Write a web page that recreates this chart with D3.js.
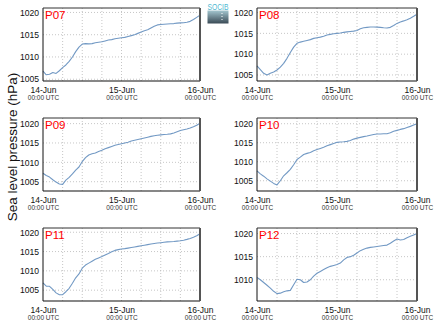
<!DOCTYPE html>
<html><head><meta charset="utf-8">
<script src="https://cdn.jsdelivr.net/npm/d3@7"></script>
<style>body{margin:0;background:#fff}svg{display:block}text{font-family:"Liberation Sans",Arial,sans-serif}</style>
</head><body>
<svg id="c" width="435" height="327"></svg>
<script>
// ---- data (hourly, 14-Jun 00:00 to 16-Jun 00:00 UTC) ----
const stations = ["P07","P08","P09","P10","P11","P12"];
const P07 = [1006.8,1006.0,1006.1,1006.5,1006.3,1006.9,1007.6,1008.2,1009.0,1010.0,1011.2,1012.2,1012.9,1013.0,1012.95,1013.0,1013.2,1013.3,1013.4,1013.6,1013.8,1013.9,1014.1,1014.2,1014.3,1014.4,1014.6,1014.8,1015.0,1015.3,1015.6,1015.9,1016.1,1016.5,1016.9,1017.2,1017.3,1017.35,1017.4,1017.45,1017.5,1017.6,1017.65,1017.7,1017.8,1018.0,1018.4,1018.9,1019.4];
const P08 = [1007.2,1006.3,1005.4,1005.0,1005.4,1005.7,1006.2,1006.9,1007.8,1009.0,1010.4,1011.7,1012.6,1012.9,1013.1,1013.3,1013.5,1013.8,1013.95,1014.1,1014.3,1014.6,1014.75,1014.9,1015.0,1015.1,1015.25,1015.35,1015.45,1015.55,1015.7,1016.1,1016.35,1016.45,1016.55,1016.55,1016.5,1016.45,1016.35,1016.3,1016.45,1016.9,1017.4,1017.75,1018.0,1018.3,1018.65,1019.1,1019.6];
const P09 = [1007.2,1006.6,1006.2,1005.5,1004.9,1004.4,1004.3,1005.4,1006.1,1007.0,1008.0,1008.8,1010.2,1011.2,1011.9,1012.2,1012.4,1012.8,1013.1,1013.5,1013.8,1014.1,1014.4,1014.6,1014.8,1015.0,1015.2,1015.5,1015.7,1015.9,1016.1,1016.3,1016.5,1016.7,1016.85,1017.0,1017.1,1017.2,1017.25,1017.35,1017.6,1017.9,1018.2,1018.4,1018.6,1018.85,1019.2,1019.6,1020.1];
const P10 = [1007.6,1006.8,1006.2,1005.5,1004.9,1004.3,1003.9,1005.0,1006.3,1007.1,1008.0,1009.2,1010.6,1011.2,1011.9,1012.2,1012.45,1012.9,1013.2,1013.5,1013.8,1014.2,1014.5,1014.8,1015.1,1015.2,1015.25,1015.35,1015.6,1015.95,1016.2,1016.4,1016.6,1016.75,1016.95,1017.15,1017.3,1017.3,1017.35,1017.35,1017.6,1018.0,1018.25,1018.5,1018.7,1019.0,1019.3,1019.65,1020.0];
const P11 = [1006.9,1006.05,1006.0,1005.2,1004.3,1003.8,1003.85,1004.6,1005.5,1006.8,1008.2,1009.2,1010.7,1011.5,1012.0,1012.5,1013.0,1013.35,1013.7,1014.1,1014.5,1014.95,1015.3,1015.5,1015.65,1015.75,1015.9,1016.05,1016.2,1016.35,1016.5,1016.65,1016.8,1016.95,1017.1,1017.2,1017.3,1017.4,1017.5,1017.55,1017.6,1017.7,1017.8,1017.95,1018.15,1018.4,1018.7,1019.1,1019.6];
const P12 = [1010.5,1010.0,1009.4,1008.8,1008.2,1007.5,1007.0,1007.1,1007.4,1007.6,1007.7,1008.9,1010.1,1010.0,1009.4,1009.5,1010.0,1010.8,1011.4,1011.8,1012.2,1012.6,1012.9,1013.1,1013.3,1013.6,1014.3,1014.8,1015.0,1015.3,1015.8,1016.3,1016.6,1016.85,1017.0,1017.1,1017.2,1017.3,1017.4,1017.5,1017.9,1018.4,1018.8,1018.6,1018.7,1019.1,1019.4,1019.7,1020.0];
const series = [P07,P08,P09,P10,P11,P12];
const yDomains = [[1004.6,1021.0],[1003.55,1021.1],[1002.6,1021.45],[1002.3,1021.5],[1002.2,1021.1],[1005.4,1021.2]];
const yTicks = [1005,1010,1015,1020];
const dayTicks = ["14-Jun","15-Jun","16-Jun"];
const subLabel = "00:00 UTC";
const yTitle = "Sea level pressure (hPa)";
const startTime = new Date(Date.UTC(2013,5,14,0));
const endTime = new Date(Date.UTC(2013,5,16,0));

// ---- layout ----
const svg = d3.select("#c");
const colX = [[43,200],[257,417]];
const rowY = [8,118,228];
const ph = 73;

const times = P07.map((_,i)=> new Date(startTime.getTime()+i*3600e3));

series.forEach((vals,k)=>{
  const col = k%2, row = Math.floor(k/2);
  const [x0,x1] = colX[col];
  const y0 = rowY[row], y1 = y0+ph;
  const x = d3.scaleUtc().domain([startTime,endTime]).range([x0,x1]);
  const y = d3.scaleLinear().domain(yDomains[k]).range([y1,y0]);
  const g = svg.append("g");

  // gridlines
  const gridT = d3.utcHour.every(6).range(startTime,endTime).slice(1);
  g.selectAll(null).data(gridT).join("line")
    .attr("x1",d=>x(d)).attr("x2",d=>x(d)).attr("y1",y0).attr("y2",y1)
    .attr("stroke","#b8b8b8").attr("stroke-width",0.8).attr("stroke-dasharray","1,2");
  const yt = yTicks.filter(v=>v>yDomains[k][0]&&v<yDomains[k][1]);
  g.selectAll(null).data(yt).join("line")
    .attr("x1",x0).attr("x2",x1).attr("y1",d=>y(d)).attr("y2",d=>y(d))
    .attr("stroke","#b8b8b8").attr("stroke-width",0.8).attr("stroke-dasharray","1,2");

  // y axis labels
  const ya = d3.axisLeft(y).tickValues(yt).tickSize(0).tickPadding(4).tickFormat(d3.format("d"));
  const yg = g.append("g").attr("transform",`translate(${x0},0)`).call(ya);
  yg.select(".domain").remove();
  yg.selectAll("text").attr("font-size",8.6).attr("fill","#111").attr("font-family","'Liberation Sans',Arial,sans-serif");

  // x axis labels
  const days = d3.utcDay.range(startTime,new Date(endTime.getTime()+1));
  const xa = d3.axisBottom(x).tickValues(days).tickSize(0).tickPadding(0).tickFormat((d,i)=>dayTicks[i]);
  const xg = g.append("g").attr("transform",`translate(0,${y1})`).call(xa);
  xg.select(".domain").remove();
  xg.selectAll("text").attr("font-size",8.5).attr("fill","#111").attr("dy",null).attr("y",12.3)
    .attr("font-family","'Liberation Sans',Arial,sans-serif");
  xg.selectAll(".tick").append("text").text(subLabel).attr("y",19).attr("text-anchor","middle")
    .attr("font-size",6.5).attr("fill","#333");

  // line
  const line = d3.line().x((d,i)=>x(times[i])).y(d=>y(d));
  g.append("path").datum(vals).attr("d",line).attr("fill","none")
    .attr("stroke","#7299c4").attr("stroke-width",1.1).attr("stroke-linejoin","round");

  // frame
  g.append("line").attr("x1",x0).attr("x2",x0).attr("y1",y0).attr("y2",y1).attr("stroke","#111").attr("stroke-width",1);
  g.append("line").attr("x1",x0).attr("x2",x1).attr("y1",y1).attr("y2",y1).attr("stroke","#111").attr("stroke-width",1.2);
  g.append("line").attr("x1",x0).attr("x2",x1).attr("y1",y0).attr("y2",y0).attr("stroke","#333").attr("stroke-width",1);
  g.append("line").attr("x1",x1).attr("x2",x1).attr("y1",y0).attr("y2",y1).attr("stroke","#555").attr("stroke-width",2);

  // station label
  g.append("text").text(stations[k]).attr("x",x0+2).attr("y",y0+11.3)
    .attr("font-size",11.5).attr("fill","#ff0000");
});

// y title
svg.append("text").text(yTitle).attr("transform","translate(17,147) rotate(-90)")
  .attr("text-anchor","middle").attr("font-size",13.5).attr("fill","#111");

// logo
const defs = svg.append("defs");
const grad = defs.append("linearGradient").attr("id","lg").attr("x1",0).attr("x2",0).attr("y1",0).attr("y2",1);
grad.append("stop").attr("offset","0%").attr("stop-color","#a3c6cf");
grad.append("stop").attr("offset","100%").attr("stop-color","#3a4a55");
svg.append("rect").attr("x",207.5).attr("y",10.5).attr("width",21).attr("height",13).attr("fill","url(#lg)");
svg.append("line").attr("x1",222).attr("x2",222).attr("y1",13).attr("y2",22).attr("stroke","#fff").attr("stroke-width",1).attr("stroke-dasharray","1,2");
svg.append("text").text("SOCIB").attr("x",207.5).attr("y",9.5).attr("font-size",8.5)
  .attr("textLength",21).attr("lengthAdjust","spacingAndGlyphs").attr("fill","#4fb9d2");
</script>
</body></html>
